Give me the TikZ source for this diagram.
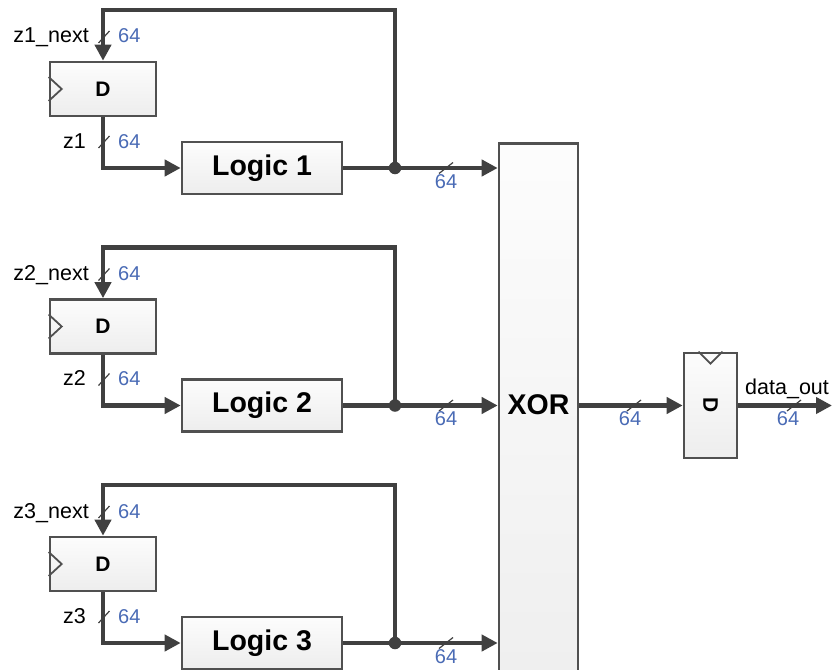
\documentclass[tikz,border=0pt]{standalone}
\usepackage{fontspec}
\setmainfont{Liberation Sans}
\usetikzlibrary{arrows.meta}
\definecolor{wirec}{RGB}{64,64,64}
\definecolor{boxc}{RGB}{80,80,80}
\definecolor{busc}{RGB}{74,107,181}
\begin{document}
\begin{tikzpicture}[x=1pt,y=-1pt,
 wire/.style={draw=wirec,line width=4.2pt},
 arr/.style={-{Triangle[length=16pt,width=16pt]}},
 blk/.style={draw=boxc,line width=2.6pt,top color=black!1,bottom color=black!7,inner sep=0pt},
 regtxt/.style={font=\bfseries\fontsize{21}{25}\selectfont},
 logtxt/.style={font=\bfseries\fontsize{28.5}{32}\selectfont},
 sig/.style={font=\fontsize{21.5}{25}\selectfont,text=black,inner sep=0pt},
 bus/.style={font=\fontsize{20}{24}\selectfont,text=busc,inner sep=0pt},
 slash/.style={draw=wirec,line width=1.2pt},
 jdot/.style={circle,fill=wirec,inner sep=0pt,minimum size=12.5pt},
 clk/.style={draw=boxc,line width=1.8pt},
]
\useasboundingbox (0,0) rectangle (832,669);
\clip (0,0) rectangle (832,669);

% XOR block
\node[blk,minimum width=79pt,minimum height=600pt,anchor=north] (X) at (538.5,142) {};
\node[logtxt] (Xt) at (538.5,405) {XOR};

\foreach \i/\dy in {1/0,2/237.5,3/475}{
  \coordinate (T\i) at (395,{10+\dy});
  \node[blk,regtxt,minimum width=106pt,minimum height=54pt] (D\i) at (103,{89+\dy}) {D};
  \draw[clk] ([yshift=12pt]D\i.west) -- ([xshift=13pt]D\i.west) -- ([yshift=-12pt]D\i.west);
  \node[blk,logtxt,minimum width=160pt,minimum height=52pt] (L\i) at (262,{168+\dy}) {Logic \i};
  \node[jdot] (J\i) at (395,{168+\dy}) {};
  \draw[wire,arr] (J\i.center) -- (T\i) -| (D\i.north);
  \draw[wire,arr] (D\i.south) |- (L\i.west);
  \draw[wire,arr] (L\i.east) -- (J\i.center) -- (J\i.center -| X.west);
  % bus slashes
  \coordinate (SA\i) at (104,{37+\dy});
  \coordinate (SB\i) at (104,{142+\dy});
  \coordinate (SC\i) at (446,{168+\dy});
  \draw[slash] ([shift={(-5.5pt,-6pt)}]SA\i) -- ([shift={(5.5pt,6pt)}]SA\i);
  \draw[slash] ([shift={(-5.5pt,-6pt)}]SB\i) -- ([shift={(5.5pt,6pt)}]SB\i);
  \draw[slash] ([shift={(-7pt,-5.5pt)}]SC\i) -- ([shift={(7pt,5.5pt)}]SC\i);
  % labels
  \node[sig,anchor=base east] (NL\i) at (89,{43+\dy}) {z\i\_next};
  \node[bus,anchor=base west] (NB\i) at (118,{43+\dy}) {64};
  \node[sig,anchor=base east] (ZL\i) at (86,{148+\dy}) {z\i};
  \node[bus,anchor=base west] (ZB\i) at (118,{148+\dy}) {64};
  \node[bus,anchor=base] (HB\i) at (446,{188+\dy}) {64};
}

% output register
\node[blk,minimum width=53pt,minimum height=105pt] (R) at (710.5,405.5) {};
\node[regtxt,rotate=-90] (Rt) at (R) {D};
\draw[clk] ([xshift=-12pt]R.north) -- ([yshift=-12pt]R.north) -- ([xshift=12pt]R.north);
\coordinate (O) at (832,405.5);
\draw[wire,arr] (R.west -| X.east) -- (R.west);
\draw[wire,arr] (R.east) -- (O);
\coordinate (SX) at (634,405.5);
\coordinate (SO) at (794,405.5);
\draw[slash] ([shift={(-7pt,-5.5pt)}]SX) -- ([shift={(7pt,5.5pt)}]SX);
\draw[slash] ([shift={(-7pt,-5.5pt)}]SO) -- ([shift={(7pt,5.5pt)}]SO);
\node[bus,anchor=base] (XB) at (630,425) {64};
\node[bus,anchor=base] (OB) at (788,425) {64};
\node[sig,anchor=base west] (DO) at (745,394) {data\_out};
\end{tikzpicture}
\end{document}
